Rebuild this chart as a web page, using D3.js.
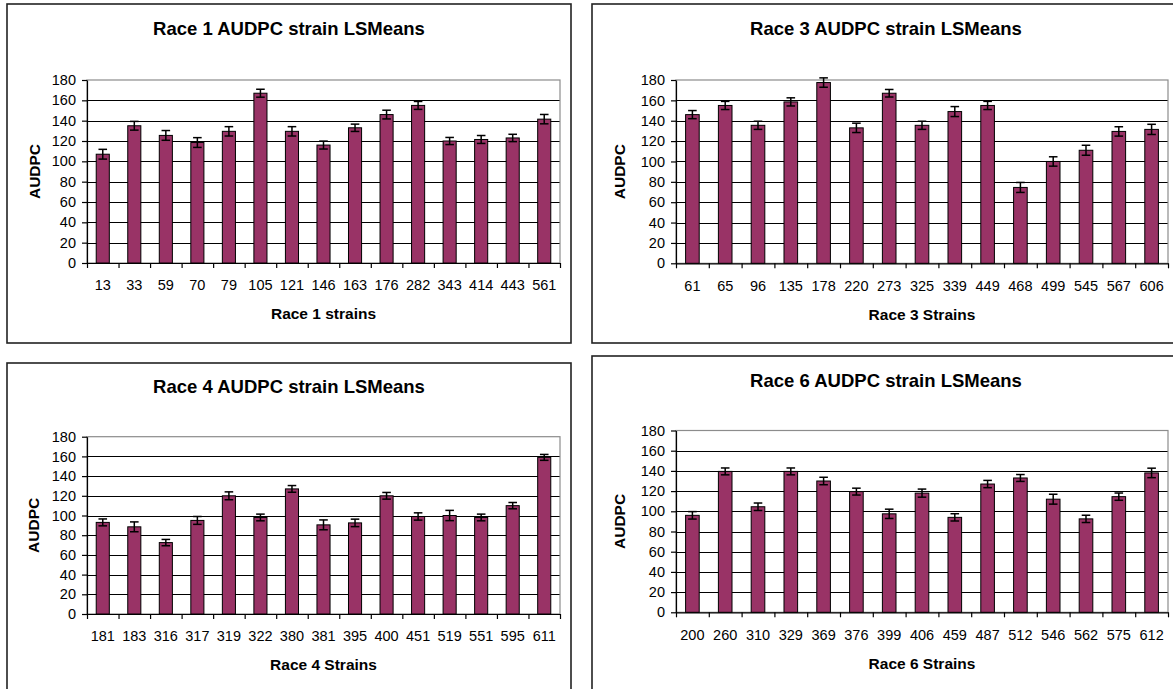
<!DOCTYPE html>
<html>
<head>
<meta charset="utf-8">
<script src="https://cdn.jsdelivr.net/npm/d3@7"></script>
<style>
  html, body { margin: 0; padding: 0; background: #ffffff; }
  svg { display: block; }
  text { font-family: "Liberation Sans", Arial, sans-serif; fill: #000; }
</style>
</head>
<body>
<svg id="chart" width="1173" height="689"></svg>
<script>
// ---- Data ----
const yTicks = [0, 20, 40, 60, 80, 100, 120, 140, 160, 180];

const race1Strains = ["13","33","59","70","79","105","121","146","163","176","282","343","414","443","561"];
const race1Means   = [107, 135, 125.5, 118.5, 129.5, 167, 129.5, 116, 133, 146, 155, 120, 121.5, 123, 141.5];
const race1Err     = [4.8, 4.3, 4.8, 4.8, 4.6, 3.9, 4.6, 3.9, 3.6, 4.3, 3.9, 3.5, 3.9, 3.6, 4.6];

const race3Strains = ["61","65","96","135","178","220","273","325","339","449","468","499","545","567","606"];
const race3Means   = [146, 155, 135.5, 158.5, 177.5, 133, 167, 135.5, 149, 155, 74.5, 100, 111, 129.5, 131.5];
const race3Err     = [4, 4, 4, 4, 4.6, 4.6, 3.7, 4, 4.9, 4, 4.9, 4.6, 4.9, 4.6, 5];

const race4Strains = ["181","183","316","317","319","322","380","381","395","400","451","519","551","595","611"];
const race4Means   = [93, 88.5, 72.5, 95, 120, 98, 127, 90.5, 92.5, 120, 99, 100, 98, 110, 159];
const race4Err     = [3.5, 5, 3.2, 4, 4, 3.4, 3.4, 5, 3.8, 3.4, 3.7, 5.2, 3.4, 3.2, 3];

const race6Strains = ["200","260","310","329","369","376","399","406","459","487","512","546","562","575","612"];
const race6Means   = [96, 139.5, 104.5, 139.5, 130, 119.5, 97.5, 118, 94, 127, 133, 112, 92.5, 114.5, 138];
const race6Err     = [3.7, 3.4, 3.7, 3.4, 3.7, 3.4, 4.6, 4, 3.6, 3.6, 3.4, 4.9, 3.6, 3.6, 4.7];

const titles  = ["Race 1 AUDPC strain LSMeans", "Race 3 AUDPC strain LSMeans", "Race 4 AUDPC strain LSMeans", "Race 6 AUDPC strain LSMeans"];
const xTitles = ["Race 1 strains", "Race 3 Strains", "Race 4 Strains", "Race 6 Strains"];
const yTitle  = "AUDPC";

// ---- Layout ----
const panels = [
  { strains: race1Strains, means: race1Means, err: race1Err, title: titles[0], xTitle: xTitles[0],
    box: [7, 4, 564, 339], plot: [87, 560, 80, 263], titleX: 289, titleY: 34.7, labelY: 290, xTitleY: 318.5, yTitleX: 39.5 },
  { strains: race3Strains, means: race3Means, err: race3Err, title: titles[1], xTitle: xTitles[1],
    box: [592, 4, 590, 339], plot: [676, 1168, 80, 263.3], titleX: 886, titleY: 34.7, labelY: 290.7, xTitleY: 319.5, yTitleX: 625 },
  { strains: race4Strains, means: race4Means, err: race4Err, title: titles[2], xTitle: xTitles[2],
    box: [7, 363, 564, 400], plot: [87, 560, 436.7, 614], titleX: 289, titleY: 393.4, labelY: 641, xTitleY: 669.5, yTitleX: 39 },
  { strains: race6Strains, means: race6Means, err: race6Err, title: titles[3], xTitle: xTitles[3],
    box: [592, 356, 590, 400], plot: [676, 1168, 430.5, 612.3], titleX: 886, titleY: 387.4, labelY: 640.3, xTitleY: 668.5, yTitleX: 625 }
];

const svg = d3.select("#chart");

panels.forEach(p => {
  const g = svg.append("g");
  const [x0, x1, yTop, yBot] = p.plot;

  // panel border
  g.append("rect")
    .attr("x", p.box[0]).attr("y", p.box[1])
    .attr("width", p.box[2]).attr("height", p.box[3])
    .attr("fill", "#fff").attr("stroke", "#222").attr("stroke-width", 1.6);

  const x = d3.scaleBand().domain(p.strains).range([x0, x1])
    .paddingInner(0.585).paddingOuter(0.585 / 2);
  const xb = d3.scaleLinear().domain([0, p.strains.length]).range([x0, x1]);
  const y = d3.scaleLinear().domain([0, 180]).range([yBot, yTop]);

  // gridlines
  g.append("g").selectAll("line")
    .data(yTicks.filter(t => t > 0 && t < 180))
    .join("line")
    .attr("x1", x0).attr("x2", x1)
    .attr("y1", d => Math.round(y(d)) + 0.5).attr("y2", d => Math.round(y(d)) + 0.5)
    .attr("stroke", "#000").attr("stroke-width", 1);

  // plot area border (gray)
  g.append("rect")
    .attr("x", x0).attr("y", y(180))
    .attr("width", x1 - x0).attr("height", y(0) - y(180))
    .attr("fill", "none").attr("stroke", "#8c8c8c").attr("stroke-width", 1.2);

  // bars
  g.append("g").selectAll("rect")
    .data(p.strains.map((s, i) => ({ s, v: p.means[i], e: p.err[i] })))
    .join("rect")
    .attr("x", d => x(d.s))
    .attr("y", d => y(d.v))
    .attr("width", x.bandwidth())
    .attr("height", d => y(0) - y(d.v))
    .attr("fill", "#993366")
    .attr("stroke", "#000").attr("stroke-width", 1);

  // error bars
  const eb = g.append("g").selectAll("g")
    .data(p.strains.map((s, i) => ({ s, v: p.means[i], e: p.err[i] })))
    .join("g")
    .attr("stroke", "#000").attr("stroke-width", 1.5);
  eb.append("line")
    .attr("x1", d => x(d.s) + x.bandwidth() / 2).attr("x2", d => x(d.s) + x.bandwidth() / 2)
    .attr("y1", d => y(d.v + d.e)).attr("y2", d => y(d.v - d.e));
  eb.append("line")
    .attr("x1", d => x(d.s) + x.bandwidth() / 2 - 4.3).attr("x2", d => x(d.s) + x.bandwidth() / 2 + 4.3)
    .attr("y1", d => y(d.v + d.e)).attr("y2", d => y(d.v + d.e));
  eb.append("line")
    .attr("x1", d => x(d.s) + x.bandwidth() / 2 - 4.3).attr("x2", d => x(d.s) + x.bandwidth() / 2 + 4.3)
    .attr("y1", d => y(d.v - d.e)).attr("y2", d => y(d.v - d.e));

  // y axis
  const ya = g.append("g").attr("transform", `translate(${x0},0)`)
    .call(d3.axisLeft(y).tickValues(yTicks).tickSize(5).tickPadding(6).tickSizeOuter(0));
  ya.select(".domain").attr("stroke", "#000").attr("stroke-width", 1.2);
  ya.selectAll(".tick line").attr("stroke", "#000").attr("stroke-width", 1.2);
  ya.selectAll("text").style("font-size", "14.5px").style("font-family", '"Liberation Sans", Arial, sans-serif').attr("fill", "#000");

  // x axis boundary ticks
  const xa = g.append("g").attr("transform", `translate(0,${yBot})`)
    .call(d3.axisBottom(xb).tickValues(d3.range(p.strains.length + 1)).tickFormat("").tickSize(5).tickSizeOuter(0));
  xa.select(".domain").attr("stroke", "#000").attr("stroke-width", 1.2);
  xa.selectAll(".tick line").attr("stroke", "#000").attr("stroke-width", 1.2);

  // x labels
  const xl = g.append("g").attr("transform", `translate(0,${yBot})`)
    .call(d3.axisBottom(x).tickSize(0).tickPadding(0));
  xl.select(".domain").remove();
  xl.selectAll("text")
    .attr("y", p.labelY - yBot).attr("dy", null)
    .style("font-size", "14.5px").style("font-family", '"Liberation Sans", Arial, sans-serif').attr("fill", "#000");

  // titles
  g.append("text").attr("x", p.titleX).attr("y", p.titleY)
    .attr("text-anchor", "middle").style("font-size", "18.5px").style("font-weight", "bold")
    .text(p.title);
  g.append("text").attr("x", (x0 + x1) / 2).attr("y", p.xTitleY)
    .attr("text-anchor", "middle").style("font-size", "15.5px").style("font-weight", "bold")
    .text(p.xTitle);
  g.append("text")
    .attr("transform", `translate(${p.yTitleX},${(yTop + yBot) / 2}) rotate(-90)`)
    .attr("text-anchor", "middle").style("font-size", "15.5px").style("font-weight", "bold")
    .text(yTitle);
});
</script>
</body>
</html>
